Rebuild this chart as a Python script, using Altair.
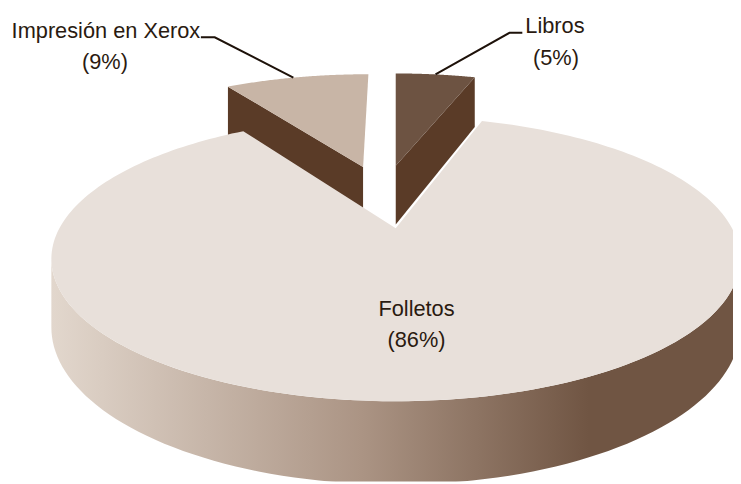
import math
import altair as alt

labels = ["Libros", "Folletos", "Impresión en Xerox"]
shares = [5, 86, 9]
explode_x = [0.0, 0.0, -0.1075]
explode_y = [0.51, 0.0, 0.50]
top_colors = ["#6D5342", "#E8E0DA", "#C8B5A6"]
dark_color = "#5A3B27"
wall_stops = [(0.0, "#E2D7CD"), (0.45, "#AB9484"), (0.78, "#705543"), (1.0, "#705543")]
text_color = "#2A1A10"

# perspective model of the pie plane (page pixels, minus the 8px page margin)
CX, AY, B, C, G, DEPTH, MARGIN = 400.0, 228.0, -88.2, 0.2153, 340.0, 66.0, 8.0


def proj(X, Y, z=0.0):
    w = 1 + C * Y
    return [CX + G * X / w - MARGIN, (AY + B * Y + z * DEPTH) / w - MARGIN]


def rim(t0, t1, dx=0.0, dy=0.0, z=0.0, n=90):
    pts = []
    for i in range(n + 1):
        t = math.radians(t0 + (t1 - t0) * i / n)
        pts.append(proj(math.sin(t) + dx, math.cos(t) + dy, z))
    return pts


def feature(part, coords, kind="Polygon"):
    geom = {"type": kind, "coordinates": [coords] if kind == "Polygon" else coords}
    return {"type": "Feature", "geometry": geom, "properties": {"part": part}}


def close(p):
    return p + [p[0]]


# slice angles from the shares, clockwise from 12 o'clock
a_libros = shares[0] * 3.6
a_xerox = 360 - shares[2] * 3.6

# side walls
sil = math.degrees(math.acos(-C))
wall = rim(sil, 360 - sil) + rim(360 - sil, sil, z=1.0)

lx, ly = explode_x[0], explode_y[0]
xx, xy = explode_x[2], explode_y[2]
lo = [math.sin(math.radians(a_libros)) + lx, math.cos(math.radians(a_libros)) + ly]
xo = [math.sin(math.radians(a_xerox)) + xx, math.cos(math.radians(a_xerox)) + xy]
dark_l = [proj(lx, ly), proj(*lo), proj(*lo, 1.0), proj(lx, ly, 1.0)]
dark_x = [proj(xx, xy), proj(*xo), proj(*xo, 1.0), proj(xx, xy, 1.0)]

faces = [
    feature("dark", close(dark_l)),
    feature("dark", close(dark_x)),
    feature(labels[1], close([proj(0, 0)] + rim(a_libros, a_xerox, n=240))),
    feature(labels[0], close([proj(lx, ly)] + rim(0, a_libros, lx, ly))),
    feature(labels[2], close([proj(xx, xy)] + rim(a_xerox, 360, xx, xy))),
]

identity = dict(type="identity", scale=1, translate=[0, 0])

wall_layer = (
    alt.Chart(alt.Data(values=[feature("wall", close(wall))]))
    .mark_geoshape(
        strokeWidth=0,
        fill=alt.Gradient(
            gradient="linear", x1=0, x2=1, y1=0, y2=0,
            stops=[alt.GradientStop(offset=o, color=c) for o, c in wall_stops],
        ),
    )
    .project(**identity)
)

face_layer = (
    alt.Chart(alt.Data(values=faces))
    .mark_geoshape(strokeWidth=0)
    .encode(
        fill=alt.Color(
            "properties.part:N",
            scale=alt.Scale(domain=labels + ["dark"], range=top_colors + [dark_color]),
            legend=None,
        )
    )
    .project(**identity)
)

# leader lines: from each exploded slice's rim to its label
rim_l = proj(math.sin(math.radians(a_libros * 0.5)) + lx, math.cos(math.radians(a_libros * 0.5)) + ly)
rim_x = proj(math.sin(math.radians(-17)) + xx, math.cos(math.radians(-17)) + xy)
leaders = [
    feature("l", [[520, 22.5], [507, 22.5], rim_l], "LineString"),
    feature("x", [[195, 27], [209, 27], rim_x], "LineString"),
]
leader_layer = (
    alt.Chart(alt.Data(values=leaders))
    .mark_geoshape(filled=False, stroke="#1E120A", strokeWidth=2)
    .project(**identity)
)


def text(value, px, py):
    return (
        alt.Chart(alt.Data(values=[{"t": value}]))
        .mark_text(
            font="Liberation Sans", fontSize=22, color=text_color,
            align="center", baseline="alphabetic",
        )
        .encode(text="t:N", x=alt.value(px), y=alt.value(py))
    )


texts = [
    text(labels[2], 99, 28),
    text(f"({shares[2]}%)", 98, 59),
    text(labels[0], 553, 23),
    text(f"({shares[0]}%)", 554, 55),
    text(labels[1], 413, 309),
    text(f"({shares[1]}%)", 413, 340),
]

chart = alt.layer(wall_layer, face_layer, leader_layer, *texts).properties(
    width=733,
    height=476,
    padding=0,
    autosize=alt.AutoSizeParams(type="none"),
    background="white",
).configure_view(stroke=None)

chart.save("out.html", embed_options={"renderer": "svg", "actions": False})
